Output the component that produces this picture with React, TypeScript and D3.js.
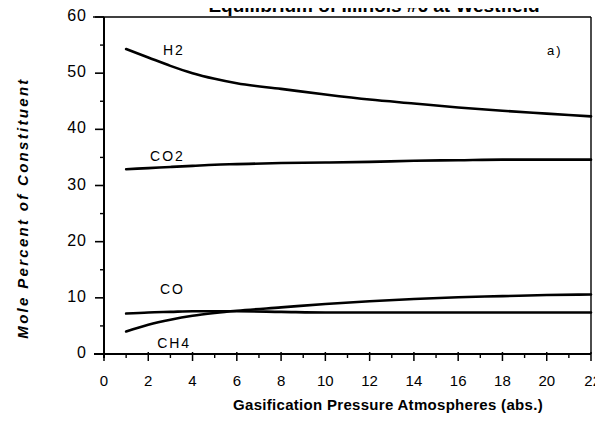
import React, { useEffect, useRef } from 'react';
import * as d3 from 'd3';

// pressure (atm) at which each curve was read
const pressure = [1, 2, 3, 4, 5, 6, 8, 10, 12, 14, 16, 18, 20, 22];

// mole percent of each constituent
const h2 = [54.3, 52.8, 51.3, 50.0, 49.0, 48.2, 47.2, 46.2, 45.3, 44.6, 43.9, 43.3, 42.8, 42.3];
const co2 = [32.9, 33.1, 33.3, 33.5, 33.7, 33.8, 34.0, 34.1, 34.2, 34.4, 34.5, 34.6, 34.6, 34.6];
const co = [7.2, 7.4, 7.5, 7.6, 7.6, 7.6, 7.5, 7.4, 7.4, 7.4, 7.4, 7.4, 7.4, 7.4];
const ch4 = [4.0, 5.2, 6.1, 6.8, 7.3, 7.7, 8.3, 8.9, 9.4, 9.8, 10.1, 10.3, 10.5, 10.6];

const xTicks = [0, 2, 4, 6, 8, 10, 12, 14, 16, 18, 20, 22];
const yTicks = [0, 10, 20, 30, 40, 50, 60];

const seriesNames = ['H2', 'CO2', 'CO', 'CH4'];
const seriesValues = [h2, co2, co, ch4];
// where each curve's name sits: [pressure, percent]
const labelSpots: [number, number][] = [[2.66, 53.2], [2.08, 34.3], [2.53, 10.7], [2.4, 1.05]];

const Chart = () => {
  const svgRef = useRef<SVGSVGElement>(null);

  useEffect(() => {
    const svg = d3.select(svgRef.current);
    svg.selectAll('*').remove();

    const width = 603;
    const height = 435;
    const x = d3.scaleLinear().domain([0, 22]).range([104, 591]);
    const y = d3.scaleLinear().domain([0, 60]).range([354, 17]);

    svg.attr('width', width).attr('height', height).style('display', 'block');
    svg.append('rect').attr('width', width).attr('height', height).attr('fill', '#fff');

    const font = 'Arial, "Liberation Sans", sans-serif';

    // title, cut off by the top edge in the scan
    svg.append('text')
      .attr('x', 374).attr('y', 12)
      .attr('text-anchor', 'middle')
      .attr('fill', '#000')
      .style('font-family', font).style('font-weight', 'bold').style('font-size', '19px')
      .text('Equilibrium of Illinois #6 at Westfield');

    // frame
    svg.append('line')
      .attr('x1', 93).attr('x2', x(22)).attr('y1', y(60)).attr('y2', y(60))
      .attr('stroke', '#000').attr('stroke-width', 1.6);
    svg.append('line')
      .attr('x1', x(22)).attr('x2', x(22)).attr('y1', y(60)).attr('y2', y(0))
      .attr('stroke', '#000').attr('stroke-width', 1.4);

    // y axis
    const yAxis = svg.append('g');
    yAxis.append('line')
      .attr('x1', x(0)).attr('x2', x(0)).attr('y1', y(60)).attr('y2', y(0) + 4)
      .attr('stroke', '#000').attr('stroke-width', 2);
    yAxis.selectAll('.ymajor').data(yTicks).join('line')
      .attr('x1', x(0) - 9).attr('x2', x(0)).attr('y1', (d) => y(d)).attr('y2', (d) => y(d))
      .attr('stroke', '#000').attr('stroke-width', 1.6);
    yAxis.selectAll('.yminor').data(d3.range(5, 60, 10)).join('line')
      .attr('x1', x(0) - 4).attr('x2', x(0)).attr('y1', (d) => y(d)).attr('y2', (d) => y(d))
      .attr('stroke', '#000').attr('stroke-width', 1.4);
    yAxis.selectAll('.ylab').data(yTicks).join('text')
      .attr('x', 87).attr('y', (d) => y(d) + 4)
      .attr('text-anchor', 'end')
      .style('font-family', font).style('font-size', '16px').style('letter-spacing', '1px')
      .text((d) => d);

    // x axis
    const xAxis = svg.append('g');
    xAxis.append('line')
      .attr('x1', x(0) - 10).attr('x2', x(22)).attr('y1', y(0)).attr('y2', y(0))
      .attr('stroke', '#000').attr('stroke-width', 2);
    xAxis.selectAll('.xmajor').data(xTicks).join('line')
      .attr('x1', (d) => x(d)).attr('x2', (d) => x(d)).attr('y1', y(0) - 2).attr('y2', y(0) + 7)
      .attr('stroke', '#000').attr('stroke-width', 1.5);
    xAxis.selectAll('.xminor').data(d3.range(1, 22, 2)).join('line')
      .attr('x1', (d) => x(d)).attr('x2', (d) => x(d)).attr('y1', y(0)).attr('y2', y(0) + 4)
      .attr('stroke', '#000').attr('stroke-width', 1.4);
    xAxis.selectAll('.xlab').data(xTicks).join('text')
      .attr('x', (d) => (d === 22 ? 601 : x(d)))
      .attr('y', 386)
      .attr('text-anchor', (d) => (d === 22 ? 'end' : 'middle'))
      .style('font-family', font).style('font-size', '15px')
      .text((d) => d);

    // axis titles
    svg.append('text')
      .attr('x', 388).attr('y', 410)
      .attr('text-anchor', 'middle')
      .style('font-family', font).style('font-weight', 'bold').style('font-size', '15px')
      .style('letter-spacing', '0.3px')
      .text('Gasification Pressure Atmospheres (abs.)');
    svg.append('text')
      .attr('transform', 'translate(28,208) rotate(-90)')
      .attr('text-anchor', 'middle')
      .style('font-family', font).style('font-weight', 'bold').style('font-style', 'italic')
      .style('font-size', '15px').style('letter-spacing', '2.3px')
      .text('Mole Percent of Constituent');

    // curves
    const line = d3.line<number>()
      .x((_, i) => x(pressure[i]))
      .y((d) => y(d))
      .curve(d3.curveMonotoneX);

    svg.selectAll('.curve').data(seriesValues).join('path')
      .attr('class', 'curve')
      .attr('d', (d) => line(d))
      .attr('fill', 'none')
      .attr('stroke', '#000')
      .attr('stroke-width', 2.6)
      .attr('stroke-linecap', 'round');

    svg.selectAll('.curve-label').data(seriesNames).join('text')
      .attr('class', 'curve-label')
      .attr('x', (_, i) => x(labelSpots[i][0]))
      .attr('y', (_, i) => y(labelSpots[i][1]))
      .style('font-family', font).style('font-size', '14px').style('letter-spacing', '2px')
      .text((d) => d);

    svg.append('text')
      .attr('x', 547).attr('y', 55)
      .style('font-family', font).style('font-size', '13px').style('letter-spacing', '2px')
      .text('a)');
  }, []);

  return <svg ref={svgRef} />;
};

export default function App() {
  return (
    <div style={{ margin: -8 }}>
      <Chart />
    </div>
  );
}
